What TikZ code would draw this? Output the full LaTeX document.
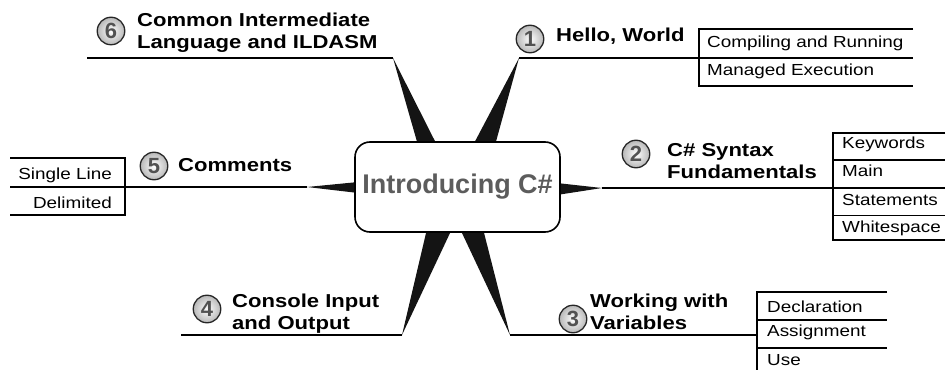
\documentclass[tikz,border=0pt]{standalone}
\usepackage{fontspec}
\setmainfont{Liberation Sans}
\newfontfamily\stf[FakeStretch=1.18]{Liberation Sans}
\usetikzlibrary{calc}
\pgfdeclarelayer{bg}
\pgfsetlayers{bg,main}
\newcommand\twoln[2]{\vtop{\hbox{#1}\hbox{#2}}}
\begin{document}
\begin{tikzpicture}[x=1pt,y=-1pt,
 title/.style={anchor=base west, inner sep=0, font=\stf\bfseries\fontsize{18.7}{22}\selectfont},
 item/.style={anchor=base west, inner sep=0, font=\stf\fontsize{16}{19}\selectfont},
 itemr/.style={item, anchor=base east},
 numc/.style={circle, draw=black!85, line width=1.3pt, minimum size=27.5pt, inner sep=0pt,
   inner color=white, outer color=black!28, text=black!68,
   font=\bfseries\fontsize{22}{22}\selectfont},
 branch/.style={line width=1.8pt},
 tab/.style={line width=1.4pt},
 spike/.style={fill=black!92}]
\useasboundingbox (0,0) rectangle (947,374);

% central node
\node[draw, line width=1.6pt, rounded corners=15pt, fill=white, minimum width=205pt,
  minimum height=90pt, text=black!64, font=\bfseries\fontsize{27}{27}\selectfont]
  (center) at (457.5,187) {Introducing C\#};

% spike tips
\coordinate (t6) at (393,58);
\coordinate (t1) at (519,58);
\coordinate (t5) at (307,187);
\coordinate (t2) at (602,188);
\coordinate (t4) at (402,335);
\coordinate (t3) at (510,335);

\begin{pgfonlayer}{bg}
\fill[spike] ($(center.north)+(-39.5,4)$) -- (t6) -- ($(center.north)+(-20.5,4)$) -- cycle;
\fill[spike] ($(center.north)+(15.5,4)$) -- (t1) -- ($(center.north)+(37.5,4)$) -- cycle;
\fill[spike] ($(center.west)+(4,-5)$) -- (t5) -- ($(center.west)+(4,6)$) -- cycle;
\fill[spike] ($(center.east)+(-4,-4)$) -- (t2) -- ($(center.east)+(-4,8)$) -- cycle;
\fill[spike] ($(center.south)+(-30.5,-4)$) -- (t4) -- ($(center.south)+(-5.5,-4)$) -- cycle;
\fill[spike] ($(center.south)+(2.5,-4)$) -- (t3) -- ($(center.south)+(25.5,-4)$) -- cycle;
\end{pgfonlayer}

% branch ends
\coordinate (e6) at (87,58);
\coordinate (k1) at (699,58);
\coordinate (k5) at (10,187);
\coordinate (k2) at (833,188);
\coordinate (e4) at (181,335);
\coordinate (k3) at (757,335);

\draw[branch] (t6) -- (e6);
\draw[branch] (t1) -- (k1);
\draw[branch] (t5) -- (k5);
\draw[branch] (t2) -- (k2);
\draw[branch] (t4) -- (e4);
\draw[branch] (t3) -- (k3);

% number circles
\node[numc] (c6) at (111,31) {6};
\node[numc] (c1) at (530,39) {1};
\node[numc] (c5) at (154,166) {5};
\node[numc] (c2) at (636,154) {2};
\node[numc] (c3) at (573,319) {3};
\node[numc] (c4) at (207,309) {4};

% titles
\node[title] (h6) at (137,27) {\twoln{Common Intermediate}{Language and ILDASM}};
\node[title] (h1) at (556,42) {Hello, World};
\node[title] (h5) at (178,172) {Comments};
\node[title] (h2) at (667,157) {\twoln{C\# Syntax}{Fundamentals}};
\node[title] (h3) at (590,307) {\twoln{Working with}{Variables}};
\node[title] (h4) at (232,307) {\twoln{Console Input}{and Output}};

% table 1
\draw[tab] (913,29) -- (699,29) -- (699,86) -- (913,86);
\draw[tab] (k1) -- (913,58);
\node[item] (s11) at (707,48) {Compiling and Running};
\node[item] (s12) at (707,76) {Managed Execution};

% table 5
\draw[tab] (10,158) -- (125,158) -- (125,215) -- (10,215);
\node[itemr] (s51) at (112,180) {Single Line};
\node[itemr] (s52) at (112,208) {Delimited};

% table 2
\draw[tab] (945,133) -- (833,133) -- (833,240) -- (945,240);
\draw[tab] (833,160) -- (945,160);
\draw[tab] (k2) -- (945,188);
\draw[tab] (833,215.5) -- (945,215.5);
\node[item] (s21) at (842,149) {Keywords};
\node[item] (s22) at (842,177) {Main};
\node[item] (s23) at (842,205) {Statements};
\node[item] (s24) at (842,232) {Whitespace};

% table 3
\draw[tab] (887,292) -- (757,292) -- (757,370);
\draw[tab] (757,320) -- (887,320);
\draw[tab] (757,348) -- (887,348);
\node[item] (s31) at (767,312) {Declaration};
\node[item] (s32) at (767,336) {Assignment};
\node[item] (s33) at (767,365) {Use};
\end{tikzpicture}
\end{document}
